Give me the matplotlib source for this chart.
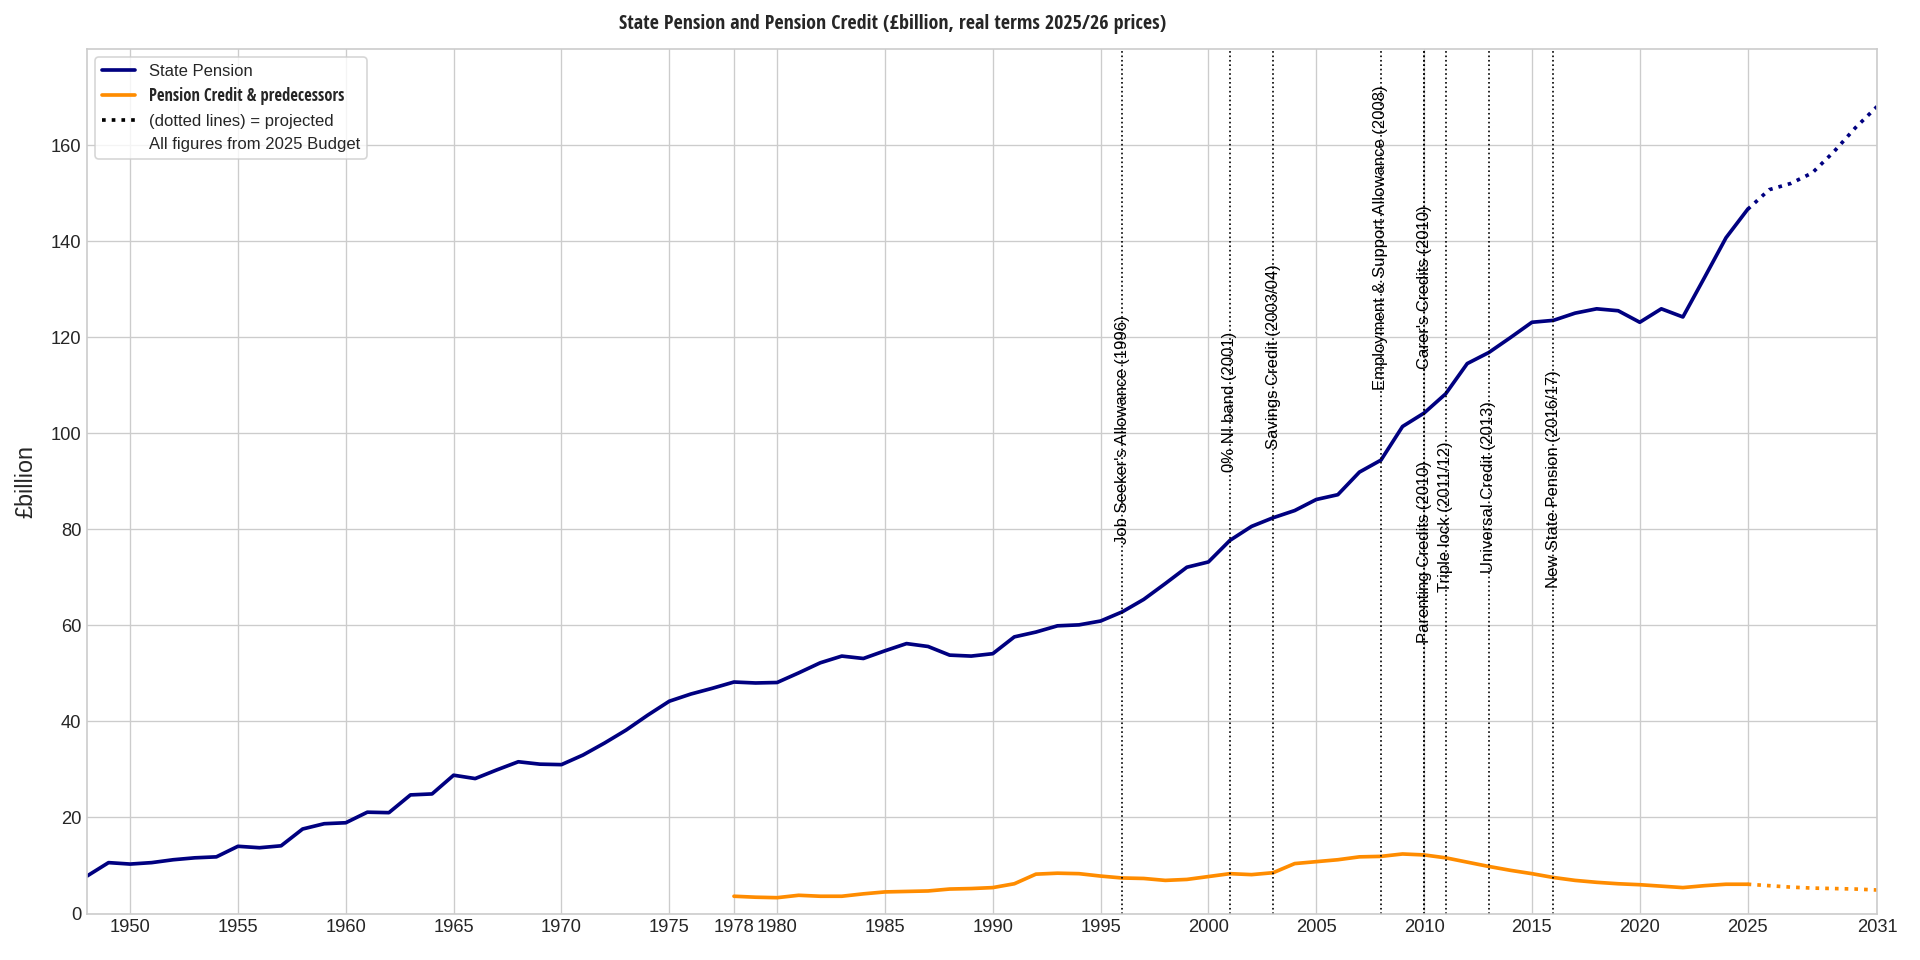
import matplotlib
matplotlib.use("Agg")
import matplotlib.pyplot as plt
from matplotlib.lines import Line2D

# State Pension, £bn real terms 2025/26 prices (outturn 1948-2025)
sp_years = list(range(1948, 2026))
sp_values = [
    7.8, 10.6, 10.3, 10.6, 11.2, 11.6, 11.8, 14.0, 13.7, 14.1,
    17.6, 18.7, 18.9, 21.1, 21.0, 24.7, 24.9, 28.8, 28.1, 29.9,
    31.6, 31.1, 31.0, 33.0, 35.5, 38.2, 41.3, 44.2, 45.7, 46.9,
    48.2, 48.0, 48.1, 50.1, 52.2, 53.6, 53.1, 54.7, 56.2, 55.6,
    53.8, 53.6, 54.1, 57.6, 58.6, 59.9, 60.1, 60.9, 62.8, 65.4,
    68.7, 72.1, 73.2, 77.7, 80.6, 82.4, 83.9, 86.2, 87.2, 91.9,
    94.4, 101.4, 104.2, 108.2, 114.5, 116.8, 119.9, 123.1, 123.5, 125.0,
    125.9, 125.5, 123.1, 125.9, 124.2, 132.4, 140.7, 146.6,
]

# projections (2025 Budget)
proj_years = list(range(2025, 2032))
sp_proj = [146.6, 150.7, 152.0, 154.2, 158.6, 163.6, 168.0]

# Pension Credit & predecessors
pc_years = list(range(1978, 2026))
pc_values = [
    3.6, 3.4, 3.3, 3.8, 3.6, 3.6, 4.1, 4.5, 4.6, 4.7,
    5.1, 5.2, 5.4, 6.2, 8.2, 8.4, 8.3, 7.8, 7.4, 7.3,
    6.9, 7.1, 7.7, 8.3, 8.1, 8.5, 10.4, 10.8, 11.2, 11.8,
    11.9, 12.4, 12.2, 11.6, 10.7, 9.8, 9.0, 8.3, 7.5, 6.9,
    6.5, 6.2, 6.0, 5.7, 5.4, 5.8, 6.1, 6.1,
]
pc_proj = [6.1, 5.8, 5.5, 5.3, 5.2, 5.1, 4.9]

# policy events
event_years = [1996, 2001, 2003, 2008, 2010, 2010, 2011, 2013, 2016]
event_labels = [
    "Job Seeker's Allowance (1996)",
    "0% NI band (2001)",
    "Savings Credit (2003/04)",
    "Employment & Support Allowance (2008)",
    "Carer's Credits (2010)",
    "Parenting Credits (2010)",
    "Triple lock (2011/12)",
    "Universal Credit (2013)",
    "New State Pension (2016/17)",
]
# where the rotated labels start (bottom end), in £bn
label_y = [77, 92, 96.7, 109, 113.4, 56.3, 67, 71, 67.8]

xticks = [1950, 1955, 1960, 1965, 1970, 1975, 1978, 1980, 1985, 1990,
          1995, 2000, 2005, 2010, 2015, 2020, 2025, 2031]

plt.style.use("seaborn-v0_8-whitegrid")
plt.rcParams["font.family"] = ["Liberation Sans", "DejaVu Sans"]
narrow = ["Open Sans Condensed", "DejaVu Sans"]

navy = "#000080"
orange = "#ff8c00"

fig = plt.figure(figsize=(16, 8), dpi=120)
ax = fig.add_axes([0.0453, 0.0484, 0.9323, 0.9006])

ax.plot(sp_years, sp_values, color=navy, lw=2.2)
ax.plot(proj_years, sp_proj, color=navy, lw=2.2, ls=":")
ax.plot(pc_years, pc_values, color=orange, lw=2.2)
ax.plot(proj_years, pc_proj, color=orange, lw=2.2, ls=":")

for yr, lab, ly in zip(event_years, event_labels, label_y):
    ax.axvline(yr, color="black", ls=":", lw=1)
    ax.text(yr, ly, lab, rotation=90, ha="center", va="bottom",
            fontsize=10, color="black")

ax.set_xlim(1948, 2031)
ax.set_ylim(0, 180)
ax.set_xticks(xticks)
ax.set_yticks(range(0, 161, 20))
ax.tick_params(labelsize=11, colors="#262626")
ax.set_ylabel("£billion", fontsize=14, labelpad=8)
for s in ax.spines.values():
    s.set_visible(True)
    s.set_color("#cccccc")

handles = [
    Line2D([], [], color=navy, lw=2.2),
    Line2D([], [], color=orange, lw=2.2),
    Line2D([], [], color="black", lw=2.2, ls=":"),
    Line2D([], [], color="none"),
]
leg = ax.legend(handles, ["State Pension", "Pension Credit & predecessors",
                          "(dotted lines) = projected", "All figures from 2025 Budget"],
                loc="upper left", fontsize=10, frameon=True, framealpha=0.8,
                edgecolor="#cccccc")
pc_text = leg.get_texts()[1]
pc_text.set_fontfamily(narrow)
pc_text.set_fontsize(10)

fig.text(0.465, 0.9745, "State Pension and Pension Credit (£billion, real terms 2025/26 prices)",
         ha="center", va="center", fontsize=12, family=narrow)

fig.savefig("out.png", dpi=120)
